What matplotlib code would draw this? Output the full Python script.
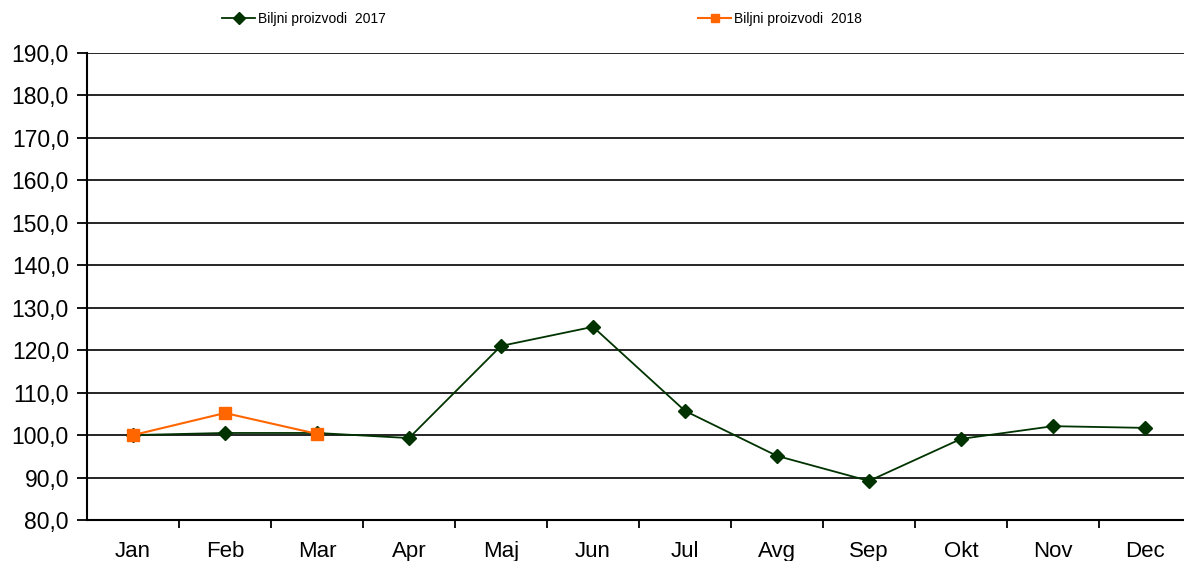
import matplotlib
matplotlib.use('Agg')
import matplotlib.pyplot as plt
from matplotlib.ticker import FixedLocator, FuncFormatter
import numpy as np

plt.rcParams['font.family'] = ['Liberation Sans', 'DejaVu Sans']

months = ['Jan', 'Feb', 'Mar', 'Apr', 'Maj', 'Jun', 'Jul', 'Avg', 'Sep', 'Okt', 'Nov', 'Dec']
vals_2017 = [100.0, 100.5, 100.5, 99.3, 121.0, 125.5, 105.7, 95.1, 89.2, 99.1, 102.1, 101.7]
vals_2018 = [100.0, 105.2, 100.3]
label_2017 = 'Biljni proizvodi  2017'
label_2018 = 'Biljni proizvodi  2018'

fig = plt.figure(figsize=(11.84, 5.61), dpi=100)
ax = fig.add_axes([87/1184, 1 - 520/561, 1104/1184, 467/561])

x = np.arange(len(months))
l1, = ax.plot(x, vals_2017, color='#003300', lw=1.3, marker='D', ms=7,
              label=label_2017, zorder=3)
l2, = ax.plot(x[:len(vals_2018)], vals_2018, color='#FF6600', lw=1.5, marker='s',
              ms=9, label=label_2018, zorder=4)

ax.set_xlim(-0.5, 11.5)
ax.set_ylim(80, 190)
ax.set_yticks(np.arange(80, 191, 10))
ax.yaxis.set_major_formatter(FuncFormatter(lambda v, p: f'{v:.1f}'.replace('.', ',')))
ax.set_xticks(x)
ax.set_xticklabels(months)
ax.xaxis.set_minor_locator(FixedLocator(np.arange(0.5, 11, 1)))
ax.tick_params(axis='x', which='major', length=0, pad=15, labelsize=16)
ax.tick_params(axis='x', which='minor', length=6, width=1.3, direction='out')
ax.tick_params(axis='y', length=7, width=1.3, labelsize=16.5, pad=6)

ax.grid(axis='y', color='black', lw=1.2)
ax.set_axisbelow(True)
for s in ['top', 'right']:
    ax.spines[s].set_visible(False)
for s in ['left', 'bottom']:
    ax.spines[s].set_linewidth(1.5)

fig.legend(handles=[l1], loc='center left', bbox_to_anchor=(222/1184, 1 - 19/561),
           frameon=False, fontsize=10, handlelength=2.4, handletextpad=0.2,
           borderaxespad=0, borderpad=0)
fig.legend(handles=[l2], loc='center left', bbox_to_anchor=(698/1184, 1 - 19/561),
           frameon=False, fontsize=10, handlelength=2.4, handletextpad=0.2,
           borderaxespad=0, borderpad=0)
for lg in fig.legends:
    for h in lg.legend_handles:
        h.set_markersize(6)

fig.savefig('out.png', dpi=100)
